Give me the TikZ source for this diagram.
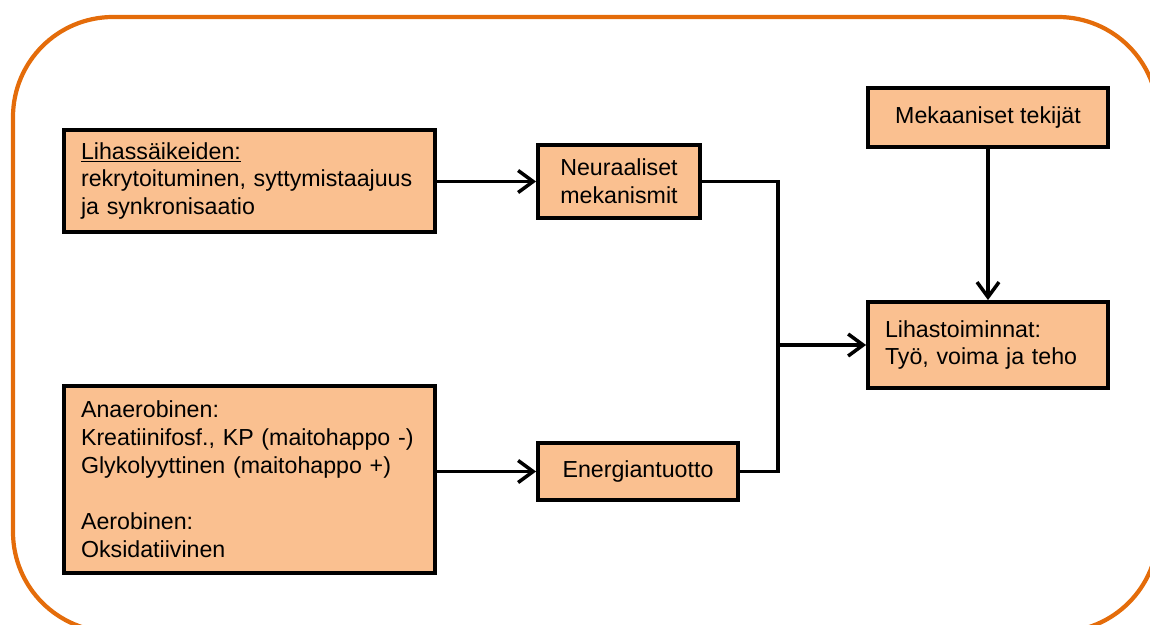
\documentclass[tikz,border=0pt]{standalone}
\usepackage{fontspec}
\setmainfont{Liberation Sans}
\usetikzlibrary{arrows.meta}
\definecolor{kehys}{RGB}{228,108,10}
\definecolor{laatikko}{RGB}{250,192,144}
\begin{document}
\begin{tikzpicture}[x=0.02cm,y=-0.02cm,
  box/.style={draw=black,line width=2.2pt,fill=laatikko,inner xsep=0.34cm,
    font=\fontsize{13.2}{15.9}\selectfont},
  lbox/.style={box,align=left},
  cbox/.style={box,align=center},
  nuoli/.style={line width=2pt,-{Straight Barb[length=0.3cm,width=0.44cm,line width=2pt]}},
  viiva/.style={line width=2pt}]
\useasboundingbox (0,0) rectangle (1150,625);
\draw[kehys,line width=2.4pt,rounded corners=2cm] (13,17) rectangle (1158,632);
\node[lbox,text width=6.74cm,minimum height=2.04cm] (saie) at (249.5,181)
  {\underline{Lihassäikeiden:}\\rekrytoituminen, syttymistaajuus\\ja synkronisaatio};
\node[lbox,text width=6.74cm,minimum height=3.74cm] (energia) at (249.5,479.5)
  {Anaerobinen:\\Kreatiinifosf., KP (maitohappo -)\\Glykolyyttinen (maitohappo +)\\[15.9pt]Aerobinen:\\Oksidatiivinen};
\node[cbox,minimum width=3.24cm,minimum height=1.46cm] (neur) at (619,181.5)
  {Neuraaliset\\mekanismit};
\node[cbox,minimum width=4cm,minimum height=1.14cm] (tuotto) at (638,471.5)
  {Energiantuotto};
\node[cbox,minimum width=4.8cm,minimum height=1.18cm] (mek) at (988,117.5)
  {Mekaaniset tekijät};
\node[lbox,text width=4.12cm,minimum height=1.72cm] (lihas) at (988,345)
  {Lihastoiminnat:\\Työ, voima ja teho};
\coordinate (yhd) at (778,345);
\draw[nuoli] (saie.east |- neur.west) -- (neur.west);
\draw[nuoli] (energia.east |- tuotto.west) -- (tuotto.west);
\draw[viiva] (neur.east) -| (yhd);
\draw[viiva] (tuotto.east) -| (yhd);
\draw[nuoli] (yhd) -- (lihas.west);
\draw[nuoli] (mek.south) -- (lihas.north);
\end{tikzpicture}
\end{document}
